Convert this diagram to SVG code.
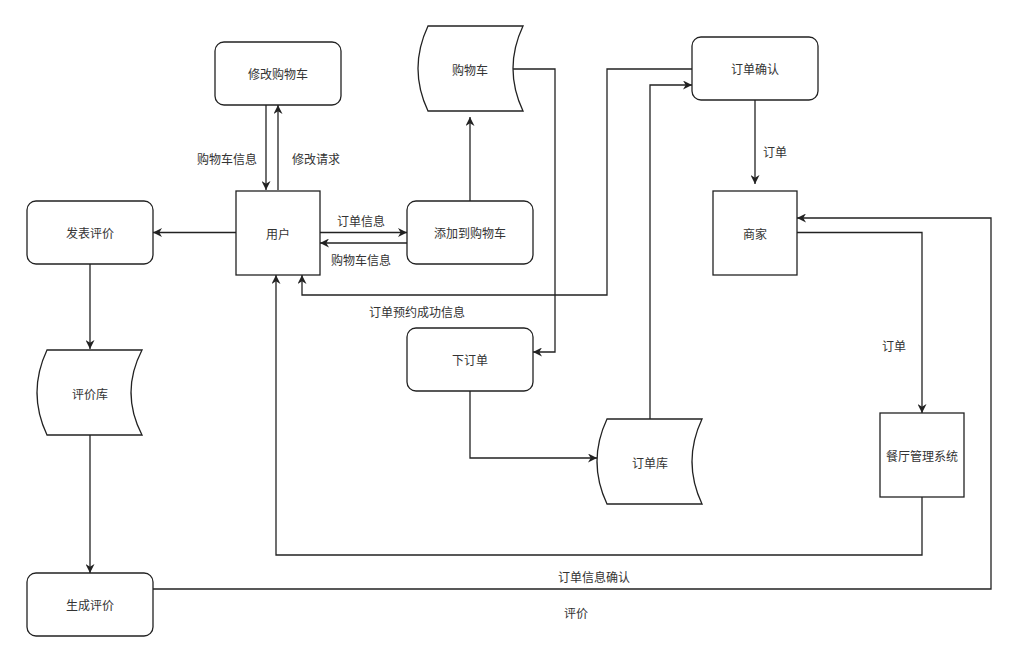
<svg xmlns="http://www.w3.org/2000/svg" width="1026" height="663" viewBox="0 0 1026 663">
<style>
.box{fill:#fff;stroke:#222;stroke-width:1.3}
.ln{fill:none;stroke:#222;stroke-width:1.3}
.t{font-family:"Noto Sans CJK SC","Noto Sans",sans-serif;font-size:12px;fill:#333;text-anchor:middle;dominant-baseline:central}
</style>
<defs>
<marker id="ar" viewBox="0 0 10 10" refX="10" refY="5" markerWidth="9" markerHeight="9" markerUnits="userSpaceOnUse" orient="auto">
<path d="M0,0 L10,5 L0,10 L3,5 Z" fill="#222"/>
</marker>
</defs>
<rect width="1026" height="663" fill="#fff"/>
<g id="connectors">
<path class="ln" d="M266,105 L266,190" marker-end="url(#ar)"/>
<path class="ln" d="M278,190 L278,105" marker-end="url(#ar)"/>
<path class="ln" d="M236,232.5 L153,232.5" marker-end="url(#ar)"/>
<path class="ln" d="M320,232.5 L407,232.5" marker-end="url(#ar)"/>
<path class="ln" d="M407,243 L320,243" marker-end="url(#ar)"/>
<path class="ln" d="M470,201 L470,117" marker-end="url(#ar)"/>
<path class="ln" d="M513,69 L555,69 L555,352 L533,352" marker-end="url(#ar)"/>
<path class="ln" d="M692,69 L607,69 L607,295 L302,295 L302,275" marker-end="url(#ar)"/>
<path class="ln" d="M650,419 L650,85 L692,85" marker-end="url(#ar)"/>
<path class="ln" d="M755,100 L755,184" marker-end="url(#ar)"/>
<path class="ln" d="M797,232.5 L922,232.5 L922,413" marker-end="url(#ar)"/>
<path class="ln" d="M922,497 L922,555 L276,555 L276,275" marker-end="url(#ar)"/>
<path class="ln" d="M470,391 L470,458 L597,458" marker-end="url(#ar)"/>
<path class="ln" d="M90,264 L90,349" marker-end="url(#ar)"/>
<path class="ln" d="M90,435 L90,573" marker-end="url(#ar)"/>
<path class="ln" d="M153,589 L991,589 L991,218 L797,218" marker-end="url(#ar)"/>
<text class="t" x="227" y="158">购物车信息</text>
<text class="t" x="316" y="158">修改请求</text>
<text class="t" x="361" y="220">订单信息</text>
<text class="t" x="361" y="259">购物车信息</text>
<text class="t" x="417" y="311">订单预约成功信息</text>
<text class="t" x="775" y="151">订单</text>
<text class="t" x="894" y="345">订单</text>
<text class="t" x="594" y="576">订单信息确认</text>
<text class="t" x="576" y="612">评价</text>
</g>
<g id="modify-cart"><rect class="box" x="215" y="42" width="126" height="63" rx="9"/><text class="t" x="278" y="73.5">修改购物车</text></g>
<g id="cart-store"><path class="box" d="M428,26 L523,26 Q503,68.5 523,111 L428,111 Q408,68.5 428,26 Z"/><text class="t" x="470" y="69">购物车</text></g>
<g id="order-confirm"><rect class="box" x="692" y="37" width="126" height="63" rx="9"/><text class="t" x="755" y="68.5">订单确认</text></g>
<g id="post-review"><rect class="box" x="27" y="201" width="126" height="63" rx="9"/><text class="t" x="90" y="232.5">发表评价</text></g>
<g id="user"><rect class="box" x="236" y="191" width="84" height="84"/><text class="t" x="278" y="233">用户</text></g>
<g id="add-cart"><rect class="box" x="407" y="201" width="126" height="63" rx="9"/><text class="t" x="470" y="232.5">添加到购物车</text></g>
<g id="merchant"><rect class="box" x="713" y="191" width="84" height="84"/><text class="t" x="755" y="233">商家</text></g>
<g id="review-store"><path class="box" d="M47,350 L142,350 Q120,392.5 142,435 L47,435 Q27,392.5 47,350 Z"/><text class="t" x="90" y="393">评价库</text></g>
<g id="place-order"><rect class="box" x="407" y="328" width="126" height="63" rx="9"/><text class="t" x="470" y="359.5">下订单</text></g>
<g id="order-store"><path class="box" d="M607,419 L702,419 Q682,461.5 702,504 L607,504 Q587,461.5 607,419 Z"/><text class="t" x="650" y="462">订单库</text></g>
<g id="restaurant-system"><rect class="box" x="880" y="413" width="84" height="84"/><text class="t" x="922" y="455">餐厅管理系统</text></g>
<g id="gen-review"><rect class="box" x="27" y="573" width="126" height="63" rx="9"/><text class="t" x="90" y="604.5">生成评价</text></g>
</svg>
